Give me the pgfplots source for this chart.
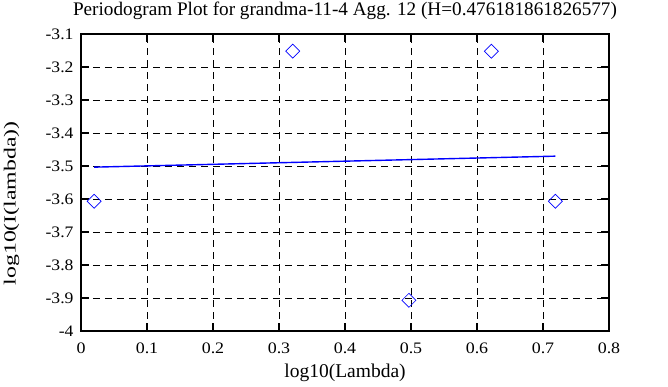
\documentclass[border=0pt]{standalone}
\usepackage{pgfplots}
\pgfplotsset{compat=1.18}
\usepackage{fontspec}
\setmainfont{Liberation Serif}
\definecolor{pblue}{RGB}{0,0,255}
\begin{document}
\begin{tikzpicture}
\begin{axis}[
  scale only axis,
  width=528pt, height=297pt,
  xmin=0, xmax=0.8, ymin=-4, ymax=-3.1,
  xtick={0,0.1,...,0.8},
  ytick={-4,-3.9,...,-3.1},
  /pgf/number format/assume math mode=true,
  /pgf/number format/fixed,
  /pgf/number format/precision=1,
  tick label style={font=\fontsize{16}{16}\selectfont},
  xticklabel={\scalebox{1.12}[1]{\pgfmathprintnumber{\tick}}},
  yticklabel={\scalebox{1.1}[1]{\pgfmathprintnumber{\tick}}},
  xticklabel style={yshift=-8pt},
  yticklabel style={xshift=-4pt},
  tick pos=both, tick align=inside,
  major tick length=8pt,
  every tick/.style={black, line width=1.6pt},
  axis line style={black, line width=1.6pt},
  grid=major,
  major grid style={black, line width=0.8pt, dash pattern=on 7pt off 5pt},
  title={\fontsize{19.2}{20}\selectfont Periodogram Plot for grandma-11-4 Agg. 12 (H=0.476181861826577)},
  title style={at={(axis description cs:0.5,1.042)}, anchor=base, inner sep=0pt},
  xlabel={\fontsize{19.5}{20}\selectfont log10(Lambda)},
  xlabel style={at={(axis description cs:0.5,-0.142)}, anchor=center, inner sep=0pt},
  ylabel={\scalebox{1.4}[1]{\fontsize{17}{17}\selectfont log10(I(lambda))}},
  ylabel style={at={(axis description cs:-0.1316,0.43)}, anchor=center, inner sep=0pt},
]
\addplot[only marks, mark=square, mark size=4.95pt, mark options={pblue, rotate=45, line width=0.7pt}] coordinates {
  (0.0198,-3.607) (0.3208,-3.152) (0.4969,-3.907) (0.6218,-3.152) (0.7187,-3.607)
};
\addplot[pblue, line width=1.4pt] coordinates {
  (0.0198,-3.5035) (0.7187,-3.4702)
};
\end{axis}
\path ([shift={(-81pt,-56pt)}]current axis.south west) rectangle ([shift={(59pt,34pt)}]current axis.north east);
\end{tikzpicture}
\end{document}
